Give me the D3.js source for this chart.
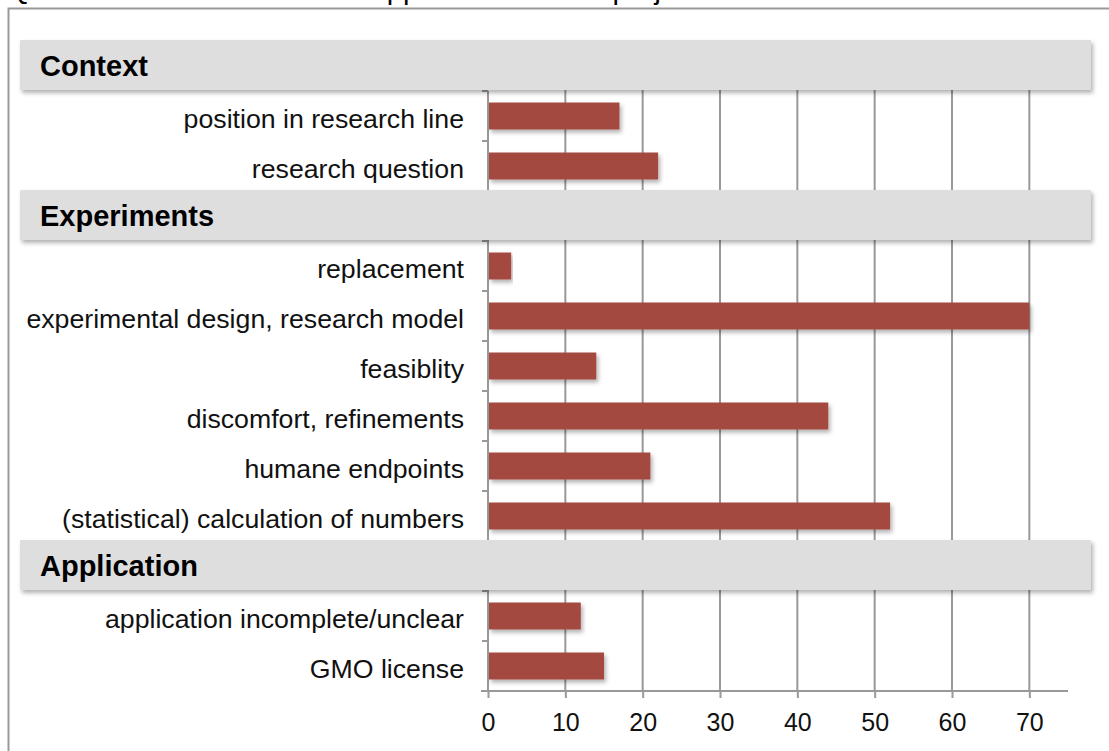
<!DOCTYPE html>
<html>
<head>
<meta charset="utf-8">
<script src="https://cdn.jsdelivr.net/npm/d3@7"></script>
<style>
  body { margin: 0; background: #fff; }
  text { font-family: "Liberation Sans", Arial, sans-serif; }
</style>
</head>
<body>
<div id="chart"></div>
<script>
// rows of the chart, top to bottom (group headers included)
var groups = ["Context", "Experiments", "Application"];
var categories = [
  "position in research line", "research question",
  "replacement", "experimental design, research model", "feasiblity",
  "discomfort, refinements", "humane endpoints", "(statistical) calculation of numbers",
  "application incomplete/unclear", "GMO license"
];
var groupOf = [0, 0, 1, 1, 1, 1, 1, 1, 2, 2];
var values = [17, 22, 3, 70, 14, 44, 21, 52, 12, 15];
var xTicks = [0, 10, 20, 30, 40, 50, 60, 70];
var title = "Questions on the content of applications of the projects";

var width = 1109, height = 751;

var svg = d3.select("#chart")
  .append("svg")
    .attr("width", width)
    .attr("height", height);

// shadow used by bars and header boxes
var defs = svg.append("defs");
var f = defs.append("filter").attr("id", "shadow")
  .attr("x", "-5%").attr("y", "-30%").attr("width", "110%").attr("height", "170%");
f.append("feDropShadow")
  .attr("dx", 2).attr("dy", 3).attr("stdDeviation", 2)
  .attr("flood-color", "#000").attr("flood-opacity", 0.3);

// build the row list: header, then its categories
var rows = [];
groups.forEach(function(g, gi) {
  rows.push({ id: "g" + gi, label: g, header: true });
  categories.forEach(function(c, i) {
    if (groupOf[i] === gi) rows.push({ id: "c" + i, label: c, header: false, value: values[i] });
  });
});

var x = d3.scaleLinear().domain([0, 75]).range([488, 1068]);
var y = d3.scaleBand().domain(rows.map(function(d) { return d.id; })).range([41, 691]);

// title (cut off at the top of the picture, as in the original) and frame
svg.append("text")
  .attr("x", 8).attr("y", -1)
  .style("font-size", "29px")
  .text(title);

svg.append("path")
  .attr("d", "M8.5," + height + "V8.5H" + width)
  .attr("fill", "none")
  .attr("stroke", "#999")
  .attr("stroke-width", 2);

// vertical grid lines
svg.append("g")
  .selectAll("line")
  .data(xTicks.slice(1))
  .enter()
  .append("line")
    .attr("x1", function(d) { return x(d); })
    .attr("x2", function(d) { return x(d); })
    .attr("y1", y.range()[0])
    .attr("y2", y.range()[1])
    .attr("stroke", "#999")
    .attr("stroke-width", 2);

var cats = rows.filter(function(d) { return !d.header; });

// left axis line with ticks at each category edge
var yAxis = svg.append("g");
yAxis.append("line")
  .attr("x1", x(0)).attr("x2", x(0))
  .attr("y1", y.range()[0] + y.bandwidth()).attr("y2", y.range()[1])
  .attr("stroke", "#999").attr("stroke-width", 2);

var edges = [];
cats.forEach(function(d) { edges.push(y(d.id)); edges.push(y(d.id) + y.bandwidth()); });
yAxis.selectAll("line.tick")
  .data(edges)
  .enter()
  .append("line")
    .attr("class", "tick")
    .attr("x1", x(0) - 6).attr("x2", x(0))
    .attr("y1", function(d) { return d; })
    .attr("y2", function(d) { return d; })
    .attr("stroke", "#999").attr("stroke-width", 2);

// header boxes
var hdr = svg.append("g")
  .selectAll("g")
  .data(rows.filter(function(d) { return d.header; }))
  .enter()
  .append("g");

hdr.append("rect")
  .attr("x", 20)
  .attr("y", function(d) { return y(d.id) - 1; })
  .attr("width", 1071)
  .attr("height", y.bandwidth())
  .attr("fill", "#dedede")
  .attr("filter", "url(#shadow)");

hdr.append("text")
  .attr("x", 40)
  .attr("y", function(d) { return y(d.id) + y.bandwidth() / 2; })
  .attr("dy", "0.35em")
  .style("font-size", "29px")
  .style("font-weight", "bold")
  .text(function(d) { return d.label; });

// category bars
var barH = y.bandwidth() * 0.54;

svg.append("g")
  .selectAll("rect")
  .data(cats)
  .enter()
  .append("rect")
    .attr("x", x(0) + 1)
    .attr("y", function(d) { return y(d.id) + (y.bandwidth() - barH) / 2; })
    .attr("width", function(d) { return x(d.value) - x(0) - 1; })
    .attr("height", barH)
    .attr("fill", "#a34a40")
    .attr("filter", "url(#shadow)");

// category labels
svg.append("g")
  .selectAll("text")
  .data(cats)
  .enter()
  .append("text")
    .attr("x", 464)
    .attr("y", function(d) { return y(d.id) + y.bandwidth() / 2 + 3; })
    .attr("dy", "0.35em")
    .attr("text-anchor", "end")
    .style("font-size", "26.7px")
    .attr("fill", "#111")
    .text(function(d) { return d.label; });

// bottom axis
var xAxis = svg.append("g")
  .attr("transform", "translate(0," + y.range()[1] + ")")
  .call(d3.axisBottom(x).tickValues(xTicks).tickSize(7).tickSizeOuter(0).tickPadding(15));

xAxis.select(".domain")
  .attr("d", "M" + (x(0) - 7) + ",0H" + x(75))
  .attr("stroke", "#999").attr("stroke-width", 2);
xAxis.selectAll(".tick line").attr("stroke", "#999").attr("stroke-width", 2);
xAxis.selectAll(".tick text")
  .style("font-size", "25px")
  .style("font-family", "'Liberation Sans', Arial, sans-serif")
  .attr("fill", "#111");
</script>
</body>
</html>
